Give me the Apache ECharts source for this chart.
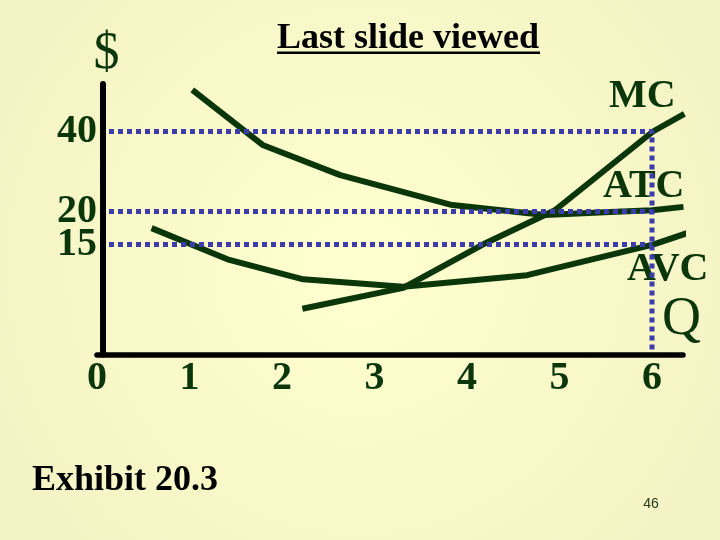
<!DOCTYPE html>
<html>
<head>
<meta charset="utf-8">
<script src="https://cdn.jsdelivr.net/npm/echarts@6/dist/echarts.min.js"></script>
<style>html,body{margin:0;padding:0;background:#FBFBCB;}#chart{width:720px;height:540px;}</style>
</head>
<body>
<div id="chart"></div>
<script>
// ---- data ----
const xTicks = [0, 1, 2, 3, 4, 5, 6];
const yTicks = [15, 20, 40];
const atcQ = [1.03, 1.79, 2.63, 3.82, 4.84, 5.55, 6.0, 6.34];
const atcCost = [57.4, 35.6, 27.4, 21.2, 19.4, 19.9, 20.2, 20.8];
const mcQ = [2.22, 3.31, 4.17, 4.95, 6.01, 6.35];
const mcCost = [8.6, 10.3, 15.0, 20.2, 40.0, 46.6];
const avcQ = [0.59, 1.41, 2.23, 3.31, 4.65, 6.01, 6.52];
const avcCost = [17.3, 13.2, 11.1, 10.4, 11.5, 15.0, 17.2];
const guideQ = [0, 6];
const guideLevels = [40, 20, 15];
const yMin = 5.78, yMax = 60.4, xMax = 6.335;

const SERIF = '"Liberation Serif","Times New Roman",serif';
const GREEN = '#0a360a';
const DOT = '#3c3caa';

function pairs(xs, ys) { return xs.map((x, i) => [x, ys[i]]); }

const curveStyle = { color: GREEN, width: 6, cap: 'butt', join: 'round' };
const dotStyle = { color: DOT, width: 5, type: [5, 4], dashOffset: 6 };

const series = [
  { name: 'ATC', type: 'line', data: pairs(atcQ, atcCost) },
  { name: 'MC', type: 'line', data: pairs(mcQ, mcCost) },
  { name: 'AVC', type: 'line', data: pairs(avcQ, avcCost) }
].map(s => Object.assign(s, { symbol: 'none', clip: false, lineStyle: curveStyle, silent: true }));

guideLevels.forEach((lv, i) => {
  const pts = [[guideQ[0], lv], [guideQ[1], lv]];
  if (i === 0) pts.push([guideQ[1], yMin]);
  series.push({ type: 'line', data: pts, symbol: 'none', clip: false, lineStyle: dotStyle, silent: true });
});

// Two stacked y axes share one scale so that the close 15/20 labels are not thinned out.
function yAxisDef(values, withLine) {
  return {
    type: 'log', min: yMin, max: yMax, offset: -5.5, position: 'left', z: 5,
    name: withLine ? '$' : '', nameLocation: 'end', nameGap: 30,
    nameTextStyle: { fontFamily: SERIF, fontSize: 52, color: GREEN, align: 'center', verticalAlign: 'middle', padding: [0, 0, 0, 8] },
    axisLine: { show: withLine, lineStyle: { color: '#000', width: 6 } },
    axisTick: { show: false },
    splitLine: { show: false },
    minorSplitLine: { show: false },
    axisLabel: {
      customValues: values, margin: 5.5, padding: [0, 0, 10, 0],
      showMinLabel: true, showMaxLabel: true,
      fontFamily: SERIF, fontSize: 40, fontWeight: 'bold', color: GREEN
    }
  };
}

const chart = echarts.init(document.getElementById('chart'));
chart.setOption({
  animation: false,
  backgroundColor: {
    type: 'radial', x: 0.5, y: 0.5, r: 0.75,
    colorStops: [{ offset: 0, color: '#FFFFCF' }, { offset: 1, color: '#F3F3C5' }]
  },
  title: {
    text: 'Last slide viewed', left: 277, top: 21, padding: 0,
    textStyle: { fontFamily: SERIF, fontSize: 36, fontWeight: 'bold', color: '#000' }
  },
  grid: { left: 97, top: 84, width: 586, height: 270.5, containLabel: false },
  xAxis: {
    type: 'value', min: 0, max: xMax, z: 5,
    axisLine: { show: true, lineStyle: { color: '#000', width: 5.5 } },
    axisTick: { show: false },
    splitLine: { show: false },
    axisLabel: {
      customValues: xTicks, margin: 4, lineHeight: 40, showMinLabel: true, showMaxLabel: true,
      fontFamily: SERIF, fontSize: 40, fontWeight: 'bold', color: GREEN
    }
  },
  yAxis: [
    yAxisDef(yTicks.filter((v, i) => i % 2 === 0), true),
    yAxisDef(yTicks.filter((v, i) => i % 2 === 1), false)
  ],
  graphic: [
    { type: 'rect', shape: { x: 277, y: 51.5, width: 263, height: 2.5 }, style: { fill: '#000' } },
    { type: 'text', x: 609, y: 96.5, style: { text: 'MC', font: 'bold 40px ' + SERIF, fill: GREEN, align: 'left', verticalAlign: 'middle' } },
    { type: 'text', x: 603, y: 186.5, style: { text: 'ATC', font: 'bold 40px ' + SERIF, fill: GREEN, align: 'left', verticalAlign: 'middle' } },
    { type: 'text', x: 627, y: 270, style: { text: 'AVC', font: 'bold 40px ' + SERIF, fill: GREEN, align: 'left', verticalAlign: 'middle' } },
    { type: 'text', x: 662, y: 320, style: { text: 'Q', font: '54px ' + SERIF, fill: GREEN, align: 'left', verticalAlign: 'middle' } },
    { type: 'text', x: 32, y: 481, style: { text: 'Exhibit 20.3', font: 'bold 36px ' + SERIF, fill: '#000', align: 'left', verticalAlign: 'middle' } },
    { type: 'text', x: 651, y: 504, style: { text: '46', font: '14px "Liberation Sans",Arial,sans-serif', fill: '#2a3a1a', align: 'center', verticalAlign: 'middle' } }
  ],
  series: series
});
</script>
</body>
</html>
